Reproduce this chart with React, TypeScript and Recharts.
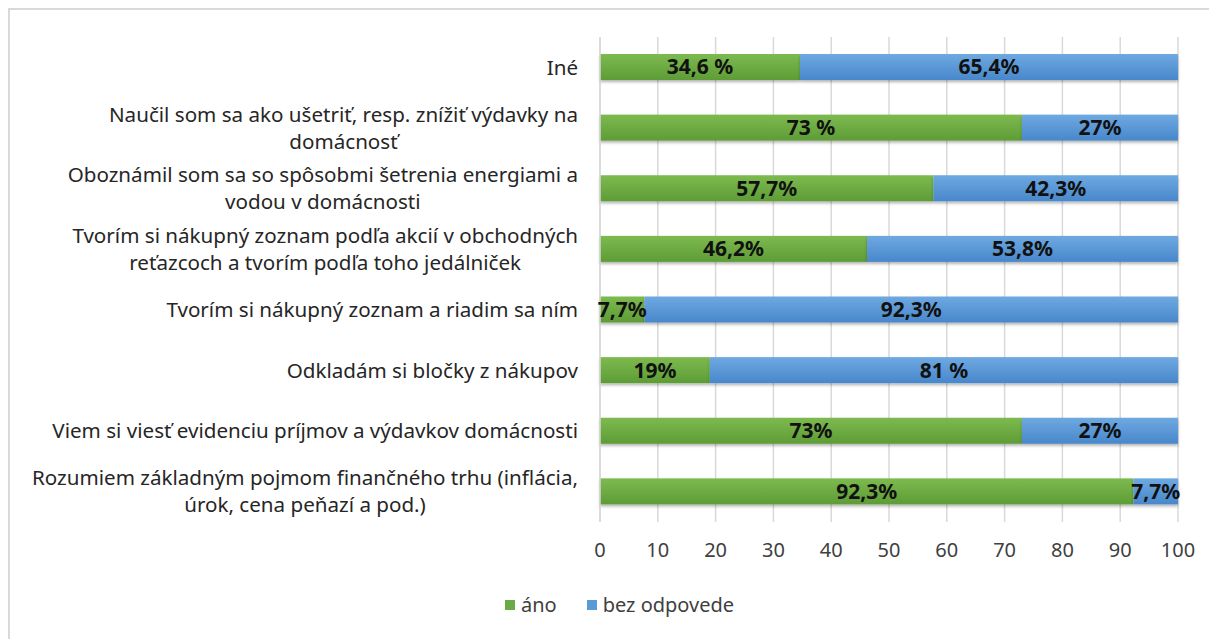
import React from 'react';
import { BarChart, Bar, XAxis, YAxis, CartesianGrid, LabelList } from 'recharts';

// categories, top to bottom as in the picture
const categories = [
  'Iné',
  'Naučil som sa ako ušetriť, resp. znížiť výdavky na\ndomácnosť',
  'Oboznámil som sa so spôsobmi šetrenia energiami a\nvodou v domácnosti',
  'Tvorím si nákupný zoznam podľa akcií v obchodných\nreťazcoch a tvorím podľa toho jedálniček',
  'Tvorím si nákupný zoznam a riadim sa ním',
  'Odkladám si bločky z nákupov',
  'Viem si viesť evidenciu príjmov a výdavkov domácnosti',
  'Rozumiem základným pojmom finančného trhu (inflácia,\núrok, cena peňazí a pod.)',
];

const anoValues = [34.6, 73, 57.7, 46.2, 7.7, 19, 73, 92.3];
const bezValues = [65.4, 27, 42.3, 53.8, 92.3, 81, 27, 7.7];

const anoLabels = ['34,6 %', '73 %', '57,7%', '46,2%', '7,7%', '19%', '73%', '92,3%'];
const bezLabels = ['65,4%', '27%', '42,3%', '53,8%', '92,3%', '81 %', '27%', '7,7%'];

const xTicks = [0, 10, 20, 30, 40, 50, 60, 70, 80, 90, 100];

const seriesNames = { ano: 'áno', bez: 'bez odpovede' };

const FONT_FAMILY = '"Noto Sans", "Open Sans", sans-serif';
const CAT_FONT_SIZE = 20.6;

const data = categories.map((name, i) => ({
  name,
  ano: anoValues[i],
  bez: bezValues[i],
  anoLabel: anoLabels[i],
  bezLabel: bezLabels[i],
}));

let ctx: CanvasRenderingContext2D | null = null;
const measure = (text: string, font: string) => {
  if (!ctx) ctx = document.createElement('canvas').getContext('2d');
  if (!ctx) return text.length * 10;
  ctx.font = font;
  return ctx.measureText(text).width;
};

// multi-line category label, lines centred on each other, block right-aligned
const CategoryTick = ({ x, y, payload }: any) => {
  const lines: string[] = String(payload.value).split('\n');
  const font = `${CAT_FONT_SIZE}px "Noto Sans"`;
  const maxW = Math.max(...lines.map((l) => measure(l, font)));
  const cx = x - maxW / 2;
  const lineH = 27;
  const startY = y - ((lines.length - 1) * lineH) / 2;
  return (
    <text textAnchor="middle" fill="#262626" fontSize={CAT_FONT_SIZE} fontFamily={FONT_FAMILY}>
      {lines.map((l, i) => (
        <tspan key={i} x={cx} y={startY + i * lineH} dy="0.35em">
          {l}
        </tspan>
      ))}
    </text>
  );
};

const ShadowRect = (props: any) => {
  const { x, y, width, height, fill } = props;
  if (!width || width <= 0) return null;
  return <rect x={x} y={y} width={width} height={height} fill={fill} filter="url(#barShadow)" />;
};

const labelStyle = {
  fill: '#111',
  fontSize: 21,
  fontWeight: 700,
  fontFamily: FONT_FAMILY,
};

const App = () => {
  return (
    <div
      style={{
        position: 'relative',
        width: 1209,
        height: 631,
        borderTop: '2px solid #d9d9d9',
        borderLeft: '2px solid #d9d9d9',
        boxSizing: 'border-box',
        background: '#fff',
      }}
    >
      <BarChart
        width={1207}
        height={629}
        data={data}
        layout="vertical"
        barSize={26}
        margin={{ top: 27, right: 39, bottom: 77, left: 0 }}
      >
        <defs>
          <linearGradient id="gradAno" x1="0" y1="0" x2="0" y2="1">
            <stop offset="0%" stopColor="#7dba4f" />
            <stop offset="100%" stopColor="#5e9c36" />
          </linearGradient>
          <linearGradient id="gradBez" x1="0" y1="0" x2="0" y2="1">
            <stop offset="0%" stopColor="#6ea9e1" />
            <stop offset="100%" stopColor="#4887cb" />
          </linearGradient>
          <filter id="barShadow" x="-5%" y="-30%" width="110%" height="180%">
            <feDropShadow dx="0" dy="2" stdDeviation="1.6" floodColor="#000" floodOpacity="0.3" />
          </filter>
        </defs>
        <CartesianGrid horizontal={false} stroke="#d9d9d9" strokeWidth={1.5} />
        <XAxis
          type="number"
          domain={[0, 100]}
          ticks={xTicks}
          axisLine={false}
          tickLine={false}
          tickSize={0}
          tickMargin={21}
          height={40}
          tick={{ fill: '#404040', fontSize: 20, fontFamily: FONT_FAMILY }}
        />
        <YAxis
          type="category"
          dataKey="name"
          width={590}
          axisLine={{ stroke: '#d9d9d9', strokeWidth: 1.5 }}
          tickLine={false}
          tickSize={0}
          tickMargin={22}
          interval={0}
          tick={<CategoryTick />}
        />
        <Bar dataKey="ano" name={seriesNames.ano} stackId="a" fill="url(#gradAno)" shape={<ShadowRect />} isAnimationActive={false}>
          <LabelList dataKey="anoLabel" position="center" style={labelStyle} />
        </Bar>
        <Bar dataKey="bez" name={seriesNames.bez} stackId="a" fill="url(#gradBez)" shape={<ShadowRect />} isAnimationActive={false}>
          <LabelList dataKey="bezLabel" position="center" style={labelStyle} />
        </Bar>
      </BarChart>
      <div
        style={{
          position: 'absolute',
          top: 584,
          left: 495,
          display: 'flex',
          alignItems: 'center',
          fontFamily: FONT_FAMILY,
          fontSize: 20,
          color: '#404040',
          lineHeight: '22px',
        }}
      >
        <span style={{ width: 10, height: 10, background: '#6aab44', marginRight: 6, display: 'inline-block' }} />
        <span style={{ marginRight: 30 }}>{seriesNames.ano}</span>
        <span style={{ width: 10, height: 10, background: '#5b9bd5', marginRight: 6, display: 'inline-block' }} />
        <span>{seriesNames.bez}</span>
      </div>
    </div>
  );
};

export default App;
